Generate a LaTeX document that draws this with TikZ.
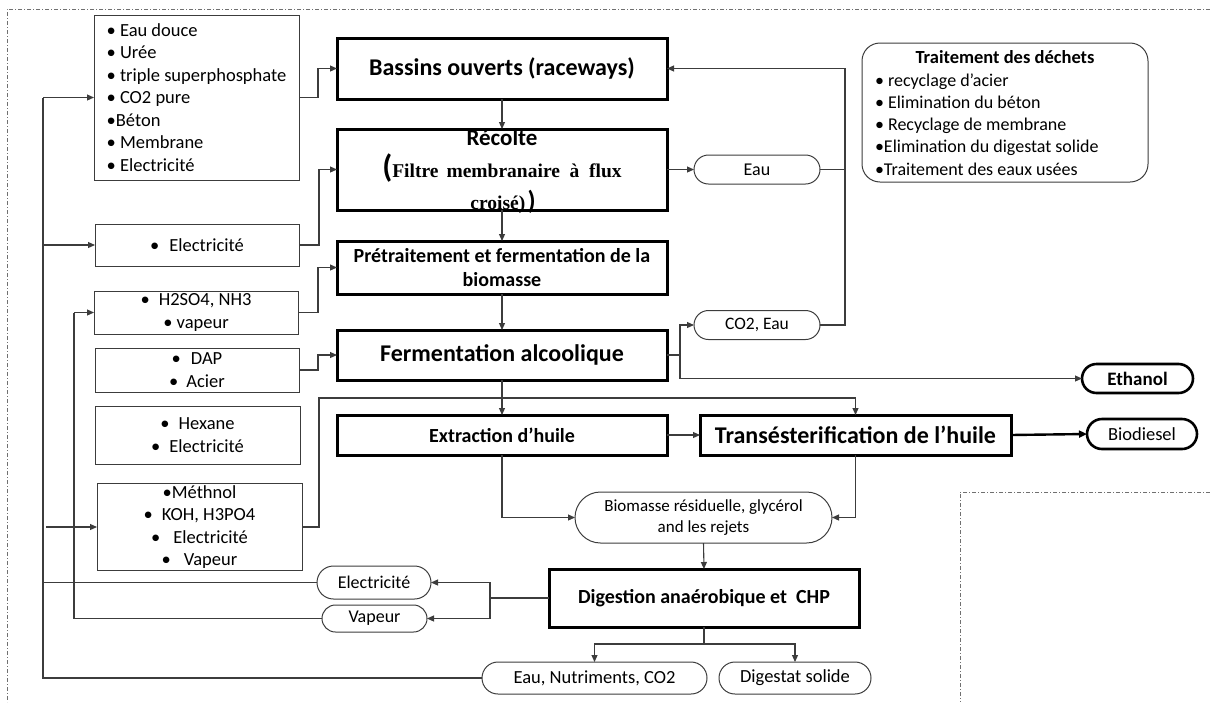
\documentclass[tikz,border=0pt]{standalone}
\usepackage{fontspec}
\setmainfont{Carlito}
\newfontfamily\tnrfont{Liberation Serif}
\usetikzlibrary{arrows.meta,calc,shapes.misc}
\definecolor{ln}{HTML}{3C3C3C}
\definecolor{bd}{HTML}{707070}

\tikzset{
  every node/.style={inner sep=0pt, outer sep=0pt},
  proc/.style={draw=black, line width=3pt, align=center,
    font=\bfseries\fontsize{20}{24}\selectfont},
  bigproc/.style={proc, font=\bfseries\fontsize{24}{28}\selectfont},
  inbox/.style={draw=ln, line width=1pt, align=center,
    font=\fontsize{18.5}{22.5}\selectfont},
  pill/.style={rounded rectangle, draw=ln, line width=1pt, align=center,
    font=\fontsize{18}{21}\selectfont},
  boldpill/.style={pill, draw=black, line width=2.6pt},
  wire/.style={draw=ln, line width=1.1pt},
  conn/.style={wire, -{Triangle[length=7pt,width=6pt]}},
  frame/.style={draw=bd, line width=1pt, dash pattern=on 4pt off 2pt on 1pt off 2pt}
}

\begin{document}
\begin{tikzpicture}[x=1pt,y=-1pt]
\useasboundingbox (0,0) rectangle (1210,702);

% dash-dot frame pieces
\draw[frame] (1210,9) -- (7,9) -- (7,702);
\draw[frame] (1210,492) -- (960,492) -- (960,702);

% input boxes
\node[inbox, align=left, minimum width=205pt, minimum height=165pt] (in1) at (196.5,97.5)
  {• Eau douce\\• Urée\\• triple superphosphate\\• CO2 pure\\•Béton\\• Membrane\\• Electricité};
\node[inbox, minimum width=204pt, minimum height=42pt] (in2) at (197,245)
  {•\hspace{10pt}Electricité};
\node[inbox, minimum width=204pt, minimum height=43pt] (in3) at (196,312.5)
  {•\hspace{9pt}H2SO4, NH3\\• vapeur};
\node[inbox, minimum width=204pt, minimum height=44pt] (in4) at (197,370)
  {•\hspace{10pt}DAP\\•\hspace{8pt}Acier};
\node[inbox, minimum width=205pt, minimum height=58pt] (in5) at (197.5,435)
  {•\hspace{9pt}Hexane\\•\hspace{9pt}Electricité};
\node[inbox, minimum width=205pt, minimum height=87pt] (in6) at (199.5,527)
  {•Méthnol\\•\hspace{9pt}KOH, H3PO4\\•\hspace{13pt}Electricité\\•\hspace{13pt}Vapeur};

% process chain
\node[bigproc, minimum width=330pt, minimum height=61pt] (bas) at (502,68.5)
  {Bassins ouverts (raceways)};
\node[proc, minimum width=330pt, minimum height=81pt] (rec) at (502,169.5) {};
\node[font=\bfseries\fontsize{23}{26}\selectfont] (rect1) at (502,138) {Récolte};
\node[anchor=base] (rect2) at (502,177)
  {{\bfseries\fontsize{32}{32}\selectfont(}{\tnrfont\bfseries\fontsize{19.5}{22}\selectfont Filtre\,\ membranaire\ \ à\ \ flux}};
\node[anchor=base] (rect3) at (503,209)
  {{\tnrfont\bfseries\fontsize{19.5}{22}\selectfont croisé)}\ {\bfseries\fontsize{26}{26}\selectfont)}};
\node[proc, minimum width=330pt, minimum height=53pt] (pre) at (502,267.5)
  {Prétraitement et fermentation de la\\biomasse};
\node[bigproc, minimum width=330pt, minimum height=50pt] (fer) at (502,355)
  {Fermentation alcoolique};
\node[proc, minimum width=330pt, minimum height=40pt] (ext) at (502,435)
  {Extraction d’huile};
\node[bigproc, minimum width=311pt, minimum height=40pt] (tra) at (855.5,435)
  {Transésterification de l’huile};
\node[proc, minimum width=310pt, minimum height=58pt] (dig) at (704,598)
  {Digestion anaérobique et\ \ CHP};

% outputs and recycled streams
\node[pill, minimum width=126pt, minimum height=29pt] (eau) at (757,169.5) {Eau};
\node[pill, minimum width=126pt, minimum height=29pt, font=\fontsize{17.5}{20}\selectfont] (co2) at (757,325) {CO2, Eau};
\node[boldpill, minimum width=111pt, minimum height=29pt, font=\bfseries\fontsize{19}{22}\selectfont] (eth) at (1137.5,378.5) {Ethanol};
\node[boldpill, minimum width=110pt, minimum height=30pt, font=\fontsize{18.5}{22}\selectfont] (bdi) at (1142,434) {Biodiesel};
\node[pill, minimum width=257pt, minimum height=51pt, font=\fontsize{17}{21}\selectfont] (bio) at (703.5,517.5)
  {Biomasse\ résiduelle,\ glycérol\\and les rejets};
\node[pill, minimum width=114pt, minimum height=33pt] (el2) at (374,582.5) {Electricité};
\node[pill, minimum width=105pt, minimum height=27pt] (vap) at (374.5,618.5) {Vapeur};
\node[pill, minimum width=225pt, minimum height=32pt, font=\fontsize{18.5}{22}\selectfont] (enc) at (594.5,678) {Eau, Nutriments, CO2};
\node[pill, minimum width=152pt, minimum height=32pt, font=\fontsize{18.5}{22}\selectfont] (dso) at (795,678) {Digestat solide};

% waste treatment
\node[draw=ln, line width=1pt, rounded corners=18pt, minimum width=286pt, minimum height=139pt] (dech) at (1005,112.5) {};
\node[font=\bfseries\fontsize{18.5}{22}\selectfont] (dechT) at (1005,57) {Traitement des déchets};
\node[anchor=west, align=left, font=\fontsize{18}{22.2}\selectfont] (dechL) at (875,124.5)
  {• recyclage d’acier\\• Elimination du béton\\• Recyclage de membrane\\•Elimination du digestat solide\\•Traitement des eaux usées};

% inputs to the process
\draw[conn] (in1.east) -- ++(19,0) |- (bas.west);
\draw[conn] (in2.east) -- ++(20,0) |- (rec.west);
\draw[conn] (in3.east) -- ++(20,0) |- (pre.west);
\draw[conn] (in4.east) -- ++(19,0) |- (fer.west);
\draw[conn] (in6.east) -- ++(17,0) |- ($(tra.north)+(0,-17)$) -- (tra.north);

% main chain
\draw[conn] (bas.south) -- (rec.north);
\draw[conn] (rec.south) -- (pre.north);
\draw[conn] (pre.south) -- (fer.north);
\draw[conn] (fer.south) -- (ext.north);
\draw[conn] (ext.east) -- (tra.west);
\draw[draw=black, line width=2.4pt, -{Triangle[length=8pt,width=7pt]}] (tra.east) -- (bdi.west);

% fermentation outputs
\coordinate (fj) at ($(fer.east)+(13,0)$);
\draw[wire] (fer.east) -- (fj);
\draw[conn] (fj) |- (co2.west);
\draw[conn] (fj) |- (eth.west);

% water recycle to the ponds
\draw[conn] (rec.east) -- (eau.west);
\coordinate (wj) at ($(eau.east)+(25,0)$);
\draw[conn] (eau.east) -- (wj) |- (bas.east);
\draw[wire] (co2.east) -| (wj);

% residues to digestion
\draw[conn] (ext.south) |- (bio.west);
\draw[conn] (tra.south) |- (bio.east);
\draw[conn] (bio.south) -- (dig.north);

% CHP products
\coordinate (dj) at ($(dig.west)+(-59,0)$);
\draw[wire] (dig.west) -- (dj);
\draw[conn] (dj) |- (el2.east);
\draw[conn] (dj) |- (vap.east);
\coordinate (dd) at ($(dig.south)+(0,17)$);
\draw[wire] (dig.south) -- (dd);
\draw[conn] (dd) -| (enc.north);
\draw[conn] (dd) -| (dso.north);

% recycle buses on the left
\coordinate (busT) at (43,97.5);
\draw[wire] (enc.west) -| (busT);
\draw[wire] (el2.west) -- (busT |- el2.west);
\draw[conn] (busT) -- (in1.west);
\draw[conn] (busT |- in2.west) -- (in2.west);
\draw[conn] ($(busT |- in6.west)+(3,0)$) -- (in6.west);
\coordinate (vbus) at (74,312.5);
\draw[wire] (vap.west) -| (vbus);
\draw[conn] (vbus) -- (in3.west);
\end{tikzpicture}
\end{document}
